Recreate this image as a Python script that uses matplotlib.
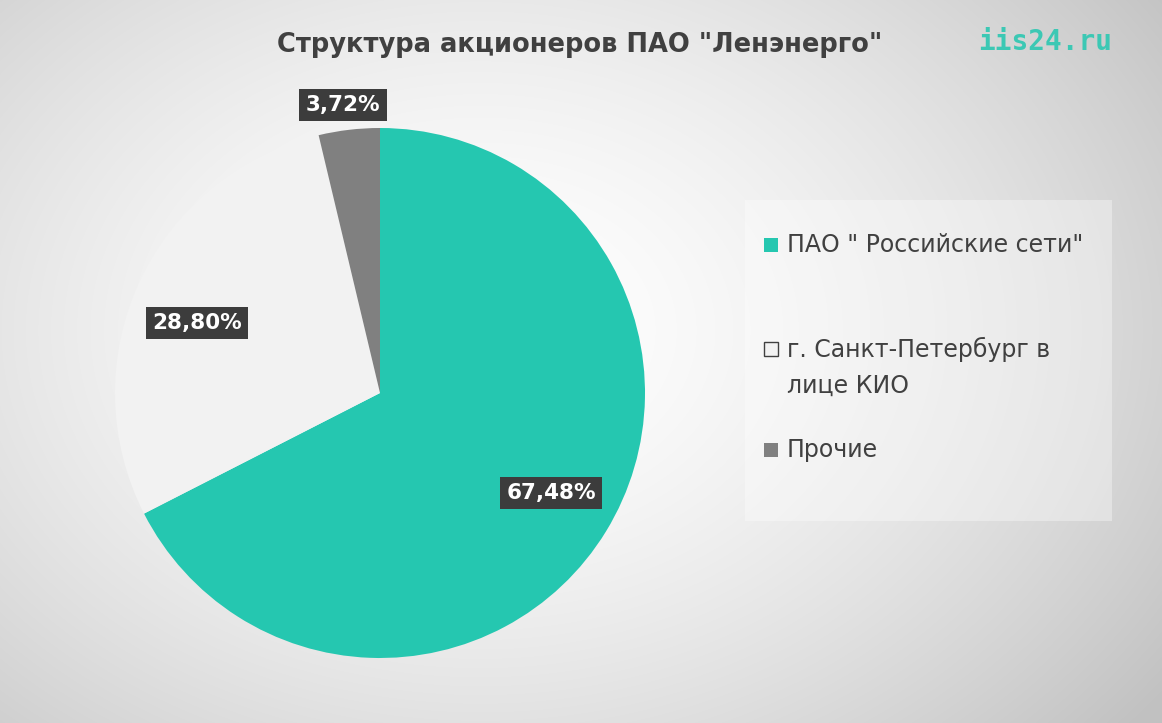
import numpy as np
import matplotlib
matplotlib.use("Agg")
import matplotlib.pyplot as plt
from matplotlib.patches import Rectangle

labels = ['ПАО " Российские сети"', 'г. Санкт-Петербург в\nлице КИО', 'Прочие']
values = [67.48, 28.80, 3.72]
value_text = ['67,48%', '28,80%', '3,72%']
colors = ['#25C7B0', '#F2F2F2', '#808080']

W, H = 1162, 723
fig = plt.figure(figsize=(W/100, H/100), dpi=100)

# background radial gradient
bg = fig.add_axes([0, 0, 1, 1])
yy, xx = np.mgrid[0:H, 0:W]
r = np.sqrt(((xx - 480) / 700) ** 2 + ((yy - 330) / 520) ** 2)
val = 1.0 - 0.18 * np.clip(r, 0, 1.2) ** 1.6
bg.imshow(np.dstack([val, val, val]), extent=[0, W, H, 0], aspect='auto')
bg.set_xlim(0, W); bg.set_ylim(H, 0); bg.axis('off')

# legend box
bg.add_patch(Rectangle((745, 200), 367, 321, facecolor='white', alpha=0.35, edgecolor='none'))

# pie
cx, cy, R = 380, 393, 265
ax = fig.add_axes([(cx - R) / W, 1 - (cy + R) / H, 2 * R / W, 2 * R / H])
ax.pie(values, colors=colors, startangle=90, counterclock=False,
       wedgeprops=dict(edgecolor='none'))
ax.set_xlim(-1, 1); ax.set_ylim(-1, 1); ax.set_aspect('auto'); ax.axis('off')

# overlay for text
ov = fig.add_axes([0, 0, 1, 1])
ov.set_xlim(0, W); ov.set_ylim(H, 0); ov.axis('off'); ov.patch.set_alpha(0)

label_pos = [(551, 493), (197, 323), (343, 105)]
for (x, y), t in zip(label_pos, value_text):
    ov.text(x, y, t, ha='center', va='center', fontsize=15.5, fontweight='bold',
            color='white',
            bbox=dict(boxstyle='square,pad=0.3', facecolor='#3C3C3C', edgecolor='none'))

ov.text(580, 45, 'Структура акционеров ПАО "Ленэнерго"', ha='center', va='center',
        fontsize=18.5, fontweight='bold', color='#404040')
ov.text(1045, 42, 'iis24.ru', ha='center', va='center', fontsize=20, fontweight='bold',
        color='#3CC8B4', family='DejaVu Sans Mono')

leg_y = [245, 349, 450]
for (y, lab, c) in zip(leg_y, labels, colors):
    ov.add_patch(Rectangle((764, y - 7), 14, 14, facecolor=c,
                           edgecolor='#404040' if c == '#F2F2F2' else 'none', lw=1))
    lines = lab.split('\n')
    for i, l in enumerate(lines):
        ov.text(787, y + 37 * i, l, ha='left', va='center', fontsize=17, color='#404040')

fig.savefig('out.png', dpi=100)
